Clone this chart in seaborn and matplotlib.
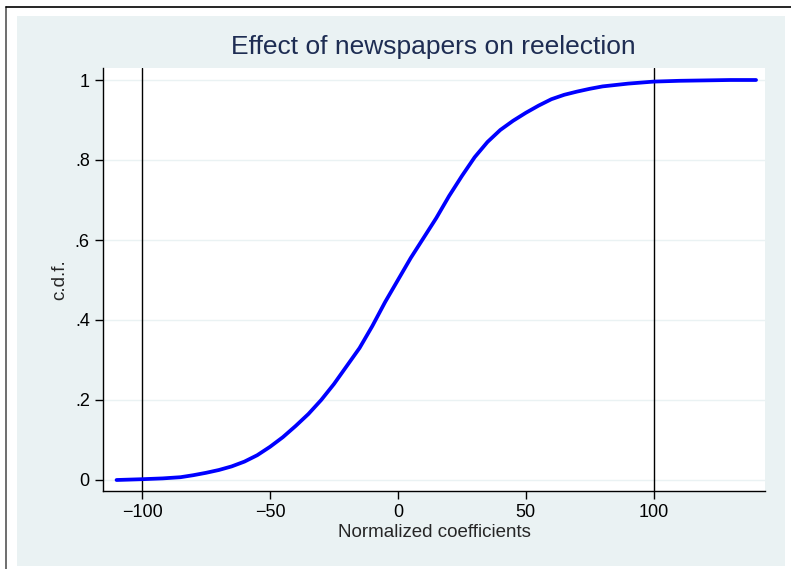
import numpy as np
import pandas as pd
import seaborn as sns
import matplotlib.pyplot as plt
from matplotlib.patches import Rectangle
from matplotlib.lines import Line2D

# values
coef = [-110, -100, -92, -85, -80, -75, -70, -65, -60, -55, -50, -45, -40, -35,
        -30, -25, -20, -15, -10, -5, 0, 5, 10, 15, 20, 25, 30, 35, 40, 45,
        50, 55, 60, 65, 70, 75, 80, 90, 100, 110, 120, 130, 140]
cdf = [0.0, 0.002, 0.004, 0.007, 0.012, 0.018, 0.025, 0.034, 0.046, 0.062,
       0.083, 0.107, 0.135, 0.165, 0.200, 0.240, 0.285, 0.330, 0.385, 0.445,
       0.500, 0.555, 0.605, 0.655, 0.710, 0.760, 0.807, 0.845, 0.875, 0.898,
       0.918, 0.936, 0.952, 0.963, 0.971, 0.978, 0.984, 0.991, 0.996, 0.998,
       0.999, 1.0, 1.0]
vlines = [-100, 100]
xticks = [-100, -50, 0, 50, 100]
xtick_labels = ["\u2212100", "\u221250", "0", "50", "100"]
yticks = [0, 0.2, 0.4, 0.6, 0.8, 1]
ytick_labels = ["0", ".2", ".4", ".6", ".8", "1"]

df = pd.DataFrame({"coef": coef, "cdf": cdf})

sns.set_style("white")
plt.rcParams['font.family'] = ['Liberation Sans', 'DejaVu Sans']

fig = plt.figure(figsize=(7.91, 5.69), dpi=100)
fig.patch.set_facecolor("white")

# Stata-like graph region
fig.patches.append(Rectangle((17 / 791, 1 - 566 / 569), 768 / 791, 550 / 569,
                             transform=fig.transFigure, facecolor="#eaf2f3",
                             edgecolor="none", zorder=-5))
fig.lines.append(Line2D([6 / 791, 6 / 791], [0, 1 - 7 / 569], transform=fig.transFigure,
                        color="#555555", lw=1.2, zorder=-5))
fig.lines.append(Line2D([6 / 791, 1], [1 - 7 / 569, 1 - 7 / 569], transform=fig.transFigure,
                        color="black", lw=1.2, zorder=-5))

ax = fig.add_axes([103 / 791, 1 - 491 / 569, (765 - 103) / 791, (491 - 68) / 569])
ax.set_facecolor("white")

for v in yticks:
    ax.axhline(v, color="#eaf2f3", lw=1, zorder=1)
for v in vlines:
    ax.axvline(v, color="black", lw=1, zorder=2)

sns.lineplot(data=df, x="coef", y="cdf", color="#0000ff", lw=2.7, ax=ax, zorder=3)

ax.set_xlim(-115.3, 143.5)
ax.set_ylim(-0.0275, 1.03)
ax.set_xticks(xticks)
ax.set_xticklabels(xtick_labels)
ax.set_yticks(yticks)
ax.set_yticklabels(ytick_labels)
ax.tick_params(axis="both", direction="out", length=6, width=1, labelsize=13,
               colors="black", bottom=True, left=True)
ax.set_xlabel("Normalized coefficients", fontsize=13.5, labelpad=2)
ax.set_ylabel("c.d.f.", fontsize=13.5, labelpad=5)
for s in ["top", "right"]:
    ax.spines[s].set_visible(False)
for s in ["left", "bottom"]:
    ax.spines[s].set_color("black")
    ax.spines[s].set_linewidth(1)

fig.text(433 / 791, 1 - 47 / 569, "Effect of newspapers on reelection",
         ha="center", va="center", fontsize=19, color="#1e2d53")

fig.savefig("out.png", dpi=100)
